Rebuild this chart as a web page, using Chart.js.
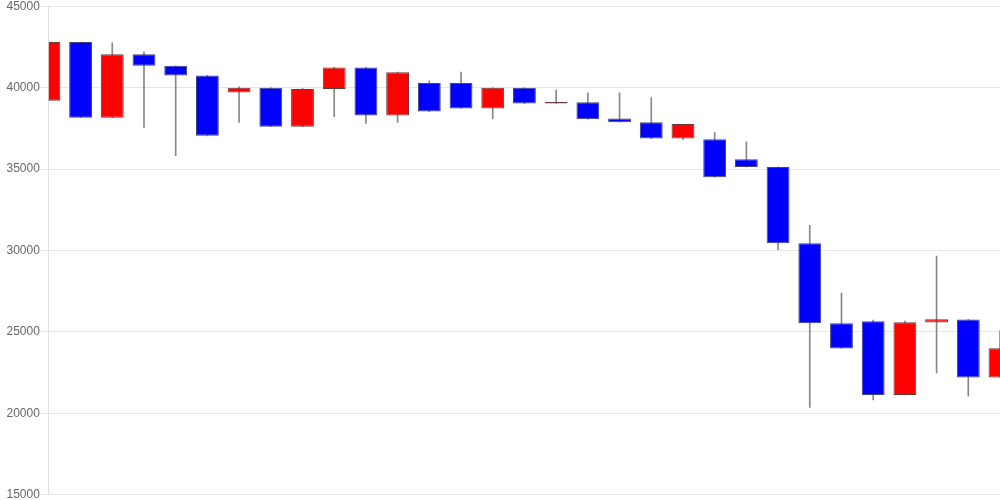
<!DOCTYPE html>
<html>
<head>
<meta charset="utf-8">
<script src="https://cdn.jsdelivr.net/npm/chart.js@4/dist/chart.umd.min.js"></script>
<style>
  html, body { margin: 0; padding: 0; background: #fff; overflow: hidden; }
  #outer { width: 1000px; height: 500px; position: relative; overflow: hidden; }
  #wrap { width: 1000px; height: 505px; position: absolute; left: 0; top: -2px; }
</style>
</head>
<body>
<div id="outer"><div id="wrap"><canvas id="c"></canvas></div></div>
<script>
const categories = ['1','2','3','4','5','6','7','8','9','10','11','12','13','14','15','16','17','18','19','20','21','22','23','24','25','26','27','28','29','30','31'];
const openVals  = [39200, 42800, 38150, 42050, 41340, 40750, 39700, 40000, 37600, 39910, 41240, 38290, 40280, 40280, 38720, 40000, 39030, 39110, 38100, 37880, 36870, 36835, 35600, 35130, 30440, 25540, 25660, 21130, 25580, 25770, 22200];
const highVals  = [42800, 42800, 42750, 42200, 41340, 40750, 40050, 40000, 39950, 41240, 41240, 40950, 40420, 40950, 40000, 40000, 39850, 39680, 39680, 39390, 37760, 37240, 36670, 35130, 31550, 27390, 25730, 25660, 29660, 25770, 25070];
const lowVals   = [39200, 38150, 38150, 37550, 35830, 37040, 37860, 37600, 37600, 38220, 37800, 37860, 38530, 38720, 38100, 39020, 39030, 38060, 37880, 36870, 36810, 34500, 35130, 30050, 20360, 23990, 20830, 21130, 22490, 21050, 22200];
const closeVals = [42800, 38150, 42050, 41340, 40750, 37040, 40000, 37600, 39910, 41240, 38290, 40950, 38530, 38720, 40000, 39020, 39120, 38060, 37880, 36870, 37760, 34500, 35130, 30440, 25540, 23990, 21130, 25600, 25780, 22200, 24000];
const yTicks = [15000, 20000, 25000, 30000, 35000, 40000, 45000];

const bodies = categories.map((_, i) => [openVals[i], closeVals[i]]);
const wicks = categories.map((_, i) => [lowVals[i], highVals[i]]);
const bodyColors = categories.map((_, i) => closeVals[i] > openVals[i] ? '#FF0000' : '#0000FF');
const bodyBorders = categories.map((_, i) => closeVals[i] > openVals[i] ? '#6a3a3a' : '#44447a');

new Chart(document.getElementById('c'), {
  type: 'bar',
  data: {
    labels: categories,
    datasets: [
      {
        label: 'body',
        data: bodies,
        backgroundColor: bodyColors,
        borderColor: bodyBorders,
        borderWidth: 1,
        borderSkipped: false,
        grouped: false,
        order: 0
      },
      {
        label: 'wick',
        data: wicks,
        backgroundColor: '#888888',
        borderWidth: 0,
        barThickness: 1,
        grouped: false,
        order: 1
      }
    ]
  },
  options: {
    responsive: true,
    maintainAspectRatio: false,
    animation: false,
    layout: { padding: { top: 0, bottom: 0, left: 5.5, right: 0 } },
    plugins: { legend: { display: false }, tooltip: { enabled: false } },
    scales: {
      x: {
        display: false,
        offset: false,
        grid: { display: false }
      },
      y: {
        min: yTicks[0],
        max: yTicks[yTicks.length - 1],
        afterBuildTicks: (axis) => { axis.ticks = yTicks.map(v => ({ value: v })); },
        ticks: {
          color: '#666666',
          padding: 1,
          font: { family: "'Liberation Sans', Arial, sans-serif", size: 12 },
          callback: (v) => String(v)
        },
        grid: { color: '#e6e6e6' },
        border: { color: '#e0e0e0' }
      }
    }
  }
});
</script>
</body>
</html>
